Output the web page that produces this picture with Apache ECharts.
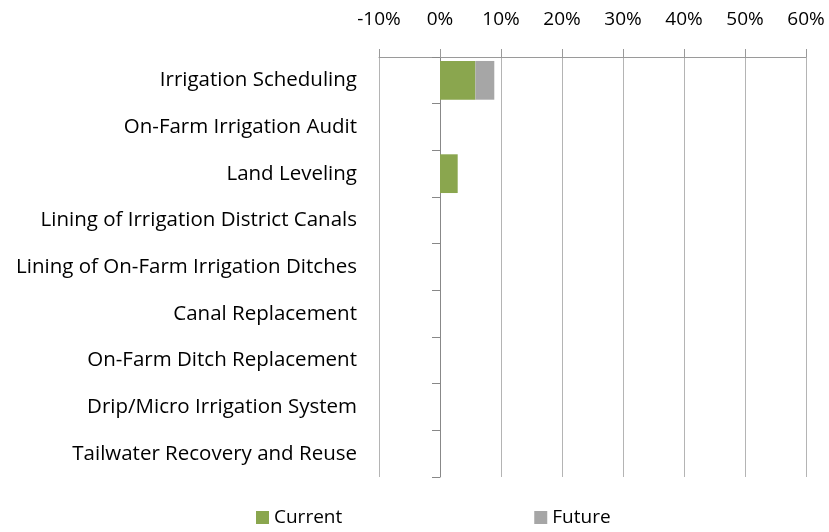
<!DOCTYPE html>
<html>
<head>
<meta charset="utf-8">
<script src="https://cdn.jsdelivr.net/npm/echarts@6/dist/echarts.min.js"></script>
<style>
  html, body { margin: 0; padding: 0; background: #fff; }
  #main { width: 829px; height: 532px; }
</style>
</head>
<body>
<div id="main"></div>
<script>
// categories, top to bottom
var categories = [
  "Irrigation Scheduling",
  "On-Farm Irrigation Audit",
  "Land Leveling",
  "Lining of Irrigation District Canals",
  "Lining of On-Farm Irrigation Ditches",
  "Canal Replacement",
  "On-Farm Ditch Replacement",
  "Drip/Micro Irrigation System",
  "Tailwater Recovery and Reuse"
];
// percent values
var currentData = [5.8, 0, 2.9, 0, 0, 0, 0, 0, 0];
var futureData = [3.1, 0, 0, 0, 0, 0, 0, 0, 0];

var chart = echarts.init(document.getElementById("main"));
var font = "Open Sans";

var option = {
  animation: false,
  textStyle: { fontFamily: font },
  grid: {
    left: 379,
    right: 23,
    top: 57,
    bottom: 55
  },
  legend: {
    data: ["Current", "Future"],
    bottom: 0,
    left: 251,
    icon: "rect",
    itemWidth: 13,
    itemHeight: 13,
    itemGap: 192,
    textStyle: { fontSize: 19, color: "#000", fontFamily: font }
  },
  xAxis: {
    type: "value",
    position: "top",
    min: -10,
    max: 60,
    interval: 10,
    axisLine: { show: true, lineStyle: { color: "#9a9a9a", width: 1 } },
    axisTick: { show: true, length: 8, lineStyle: { color: "#9a9a9a" } },
    splitLine: { show: true, lineStyle: { color: "#b4b4b4", width: 1 } },
    axisLabel: {
      formatter: "{value}%",
      fontSize: 19,
      color: "#000",
      margin: 28
    }
  },
  yAxis: {
    type: "category",
    inverse: true,
    data: categories,
    axisLine: { show: true, onZero: true, lineStyle: { color: "#888", width: 1 } },
    axisTick: { show: true, length: 8, lineStyle: { color: "#888" } },
    splitLine: { show: false },
    axisLabel: {
      fontSize: 20.5,
      color: "#000",
      margin: 22
    }
  },
  series: [
    {
      name: "Current",
      type: "bar",
      stack: "total",
      data: currentData,
      barCategoryGap: "17%",
      itemStyle: { color: "#8aa64e" }
    },
    {
      name: "Future",
      type: "bar",
      stack: "total",
      data: futureData,
      barCategoryGap: "17%",
      itemStyle: { color: "#a6a6a6" }
    }
  ]
};
chart.setOption(option);
</script>
</body>
</html>
